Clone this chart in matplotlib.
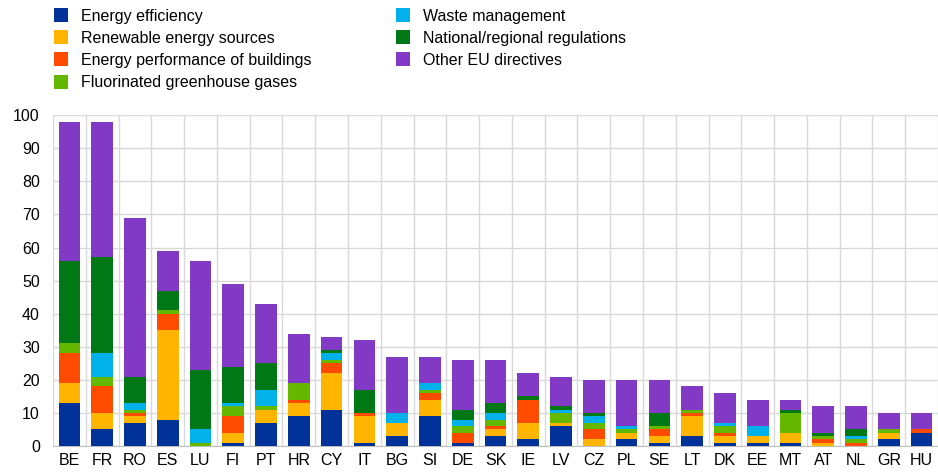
import numpy as np
import matplotlib.pyplot as plt
from matplotlib.patches import Patch

plt.rcParams['font.family'] = ['Liberation Sans', 'DejaVu Sans']

# countries
paises = ['BE', 'FR', 'RO', 'ES', 'LU', 'FI', 'PT', 'HR', 'CY', 'IT', 'BG', 'SI', 'DE', 'SK',
          'IE', 'LV', 'CZ', 'PL', 'SE', 'LT', 'DK', 'EE', 'MT', 'AT', 'NL', 'GR', 'HU']

# series (bottom to top)
eficiencia = [13, 5, 7, 8, 0, 1, 7, 9, 11, 1, 3, 9, 1, 3, 2, 6, 0, 2, 1, 3, 1, 1, 1, 0, 0, 2, 4]
renovables = [6, 5, 2, 27, 0, 3, 4, 4, 11, 8, 4, 5, 0, 2, 5, 1, 2, 2, 2, 6, 2, 2, 3, 1, 0, 2, 0]
edificios = [9, 8, 1, 5, 0, 5, 0, 1, 3, 1, 0, 2, 3, 1, 7, 0, 3, 0, 2, 1, 1, 0, 0, 1, 1, 0, 1]
fluorados = [3, 3, 1, 1, 1, 3, 1, 5, 1, 0, 0, 1, 2, 2, 0, 3, 2, 1, 1, 1, 2, 0, 6, 1, 1, 1, 0]
residuos = [0, 7, 2, 0, 4, 1, 5, 0, 2, 0, 3, 2, 2, 2, 0, 1, 2, 1, 0, 0, 1, 3, 0, 0, 1, 0, 0]
nacional = [25, 29, 8, 6, 18, 11, 8, 0, 1, 7, 0, 0, 3, 3, 1, 1, 1, 0, 4, 0, 0, 0, 1, 1, 2, 0, 0]
otras_ue = [42, 41, 48, 12, 33, 25, 18, 15, 4, 15, 17, 8, 15, 13, 7, 9, 10, 14, 10, 7, 9, 8, 3, 8, 7, 5, 5]

etiquetas = ['Energy efficiency', 'Renewable energy sources', 'Energy performance of buildings',
             'Fluorinated greenhouse gases', 'Waste management', 'National/regional regulations',
             'Other EU directives']
colores = ['#003299', '#FFB400', '#FF4B00', '#65B800', '#00B1EA', '#007816', '#8139C6']

series = [eficiencia, renovables, edificios, fluorados, residuos, nacional, otras_ue]

fig = plt.figure(figsize=(9.38, 4.74), dpi=100)
ax = fig.add_axes([0.0565, 0.059, 0.9435, 0.698])

x = np.arange(len(paises))
base = np.zeros(len(paises))
for datos, color in zip(series, colores):
    ax.bar(x, datos, bottom=base, width=0.66, color=color, linewidth=0, zorder=3)
    base = base + np.array(datos)

ax.set_ylim(0, 100)
ax.set_xlim(-0.5, len(paises) - 0.5)
ax.set_yticks(np.arange(0, 101, 10))
ax.set_xticks(x)
ax.set_xticklabels(paises)
ax.set_xticks(np.arange(-0.5, len(paises), 1), minor=True)

ax.grid(True, which='major', axis='y', color='#d9d9d9', linewidth=1, zorder=0)
ax.grid(True, which='minor', axis='x', color='#d9d9d9', linewidth=1, zorder=0)
ax.tick_params(which='both', length=0, labelsize=11.5, colors='#000000')
ax.tick_params(axis='y', pad=9.5)
ax.tick_params(axis='x', pad=5)
for lado in ['top', 'right', 'left']:
    ax.spines[lado].set_visible(False)
ax.spines['bottom'].set_color('#bfbfbf')

handles = [Patch(facecolor=c, edgecolor='none') for c in colores]
fig.legend(handles, etiquetas, loc='upper left', bbox_to_anchor=(0.0576, 0.983), ncol=2,
           frameon=False, fontsize=11.5, borderpad=0, borderaxespad=0,
           handlelength=0.875, handleheight=0.97, handletextpad=0.8,
           columnspacing=5.3, labelspacing=0.42)

plt.savefig('out.png', dpi=100)
